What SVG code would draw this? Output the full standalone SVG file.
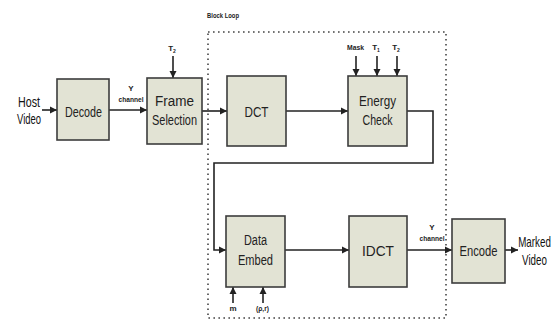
<svg xmlns="http://www.w3.org/2000/svg" width="552" height="322" viewBox="0 0 552 322">
<style>
.box{fill:#e2e3d4;stroke:#3c3c3c;stroke-width:1.6}
.lbl{font-family:"Liberation Sans",Arial,sans-serif;font-size:14px;fill:#222;text-anchor:middle}
.sm{font-family:"Liberation Sans",Arial,sans-serif;font-size:8px;fill:#222;text-anchor:middle;font-weight:bold}
.io{font-family:"Liberation Sans",Arial,sans-serif;font-size:14px;fill:#111;text-anchor:middle}
.ln{fill:none;stroke:#222;stroke-width:1.6}
.dot{fill:none;stroke:#444;stroke-width:1.6;stroke-dasharray:1.6 3.4}
</style>
<defs>
<marker id="ah" viewBox="0 0 10 10" refX="10" refY="5" markerWidth="4.5" markerHeight="4.5" orient="auto" markerUnits="strokeWidth">
<path d="M0,0 L10,5 L0,10 z" fill="#222"/>
</marker>
</defs>
<rect width="552" height="322" fill="#fff"/>
<g id="block-loop">
<path class="dot" d="M208,32 H446 V318 H208 Z"/>
<text class="sm" x="223" y="18" textLength="32" lengthAdjust="spacingAndGlyphs">Block Loop</text>
</g>
<g id="connectors">
<path class="ln" d="M42,110 H57" marker-end="url(#ah)"/>
<path class="ln" d="M109,110 H147" marker-end="url(#ah)"/>
<path class="ln" d="M173,56 V78" marker-end="url(#ah)"/>
<path class="ln" d="M202,111 H227" marker-end="url(#ah)"/>
<path class="ln" d="M286,111 H348" marker-end="url(#ah)"/>
<path class="ln" d="M356,56 V76" marker-end="url(#ah)"/>
<path class="ln" d="M377,56 V76" marker-end="url(#ah)"/>
<path class="ln" d="M397,56 V76" marker-end="url(#ah)"/>
<path class="ln" d="M407,111 H433 V163 H214 V250 H226" marker-end="url(#ah)"/>
<path class="ln" d="M285,250 H349" marker-end="url(#ah)"/>
<path class="ln" d="M407,250 H452" marker-end="url(#ah)"/>
<path class="ln" d="M505,250 H518" marker-end="url(#ah)"/>
<path class="ln" d="M233,303 V287" marker-end="url(#ah)"/>
<path class="ln" d="M263,303 V287" marker-end="url(#ah)"/>
</g>
<g id="host-video">
<text class="io" x="29" y="107" textLength="22" lengthAdjust="spacingAndGlyphs">Host</text>
<text class="io" x="29" y="124" textLength="24" lengthAdjust="spacingAndGlyphs">Video</text>
</g>
<g id="decode">
<rect class="box" x="57" y="79" width="52" height="61"/>
<text class="lbl" x="83.5" y="117" textLength="37" lengthAdjust="spacingAndGlyphs">Decode</text>
</g>
<g id="y-channel-1">
<text class="sm" x="131" y="91">Y</text>
<text class="sm" x="131" y="102" textLength="25" lengthAdjust="spacingAndGlyphs">channel</text>
</g>
<g id="frame-selection">
<rect class="box" x="147" y="78" width="55" height="66"/>
<text class="lbl" x="174.5" y="106" textLength="39" lengthAdjust="spacingAndGlyphs">Frame</text>
<text class="lbl" x="174.5" y="125" textLength="45" lengthAdjust="spacingAndGlyphs">Selection</text>
<text class="sm" x="172" y="51">T<tspan font-size="5" dy="2">2</tspan></text>
</g>
<g id="dct">
<rect class="box" x="227" y="76" width="59" height="70"/>
<text class="lbl" x="256.5" y="117" textLength="24" lengthAdjust="spacingAndGlyphs">DCT</text>
</g>
<g id="energy-check">
<rect class="box" x="348" y="76" width="59" height="70"/>
<text class="lbl" x="377.5" y="106" textLength="37" lengthAdjust="spacingAndGlyphs">Energy</text>
<text class="lbl" x="377.5" y="125" textLength="30" lengthAdjust="spacingAndGlyphs">Check</text>
<text class="sm" x="355.5" y="50" textLength="17" lengthAdjust="spacingAndGlyphs">Mask</text>
<text class="sm" x="376" y="50">T<tspan font-size="5" dy="2">1</tspan></text>
<text class="sm" x="396" y="50">T<tspan font-size="5" dy="2">2</tspan></text>
</g>
<g id="data-embed">
<rect class="box" x="226" y="216" width="59" height="71"/>
<text class="lbl" x="255.5" y="245" textLength="23" lengthAdjust="spacingAndGlyphs">Data</text>
<text class="lbl" x="255.5" y="265" textLength="35" lengthAdjust="spacingAndGlyphs">Embed</text>
<text class="sm" x="233" y="311">m</text>
<text class="sm" x="262.5" y="311" textLength="13" lengthAdjust="spacingAndGlyphs">(ρ,r)</text>
</g>
<g id="idct">
<rect class="box" x="349" y="216" width="58" height="71"/>
<text class="lbl" x="378" y="256" textLength="32" lengthAdjust="spacingAndGlyphs">IDCT</text>
</g>
<g id="y-channel-2">
<text class="sm" x="432" y="230">Y</text>
<text class="sm" x="432" y="241" textLength="25" lengthAdjust="spacingAndGlyphs">channel</text>
</g>
<g id="encode">
<rect class="box" x="452" y="219" width="53" height="64"/>
<text class="lbl" x="478.5" y="256" textLength="38" lengthAdjust="spacingAndGlyphs">Encode</text>
</g>
<g id="marked-video" transform="translate(534.5,0) scale(0.7,1)">
<text class="io" x="0" y="247">Marked</text>
<text class="io" x="0" y="265">Video</text>
</g>
</svg>
